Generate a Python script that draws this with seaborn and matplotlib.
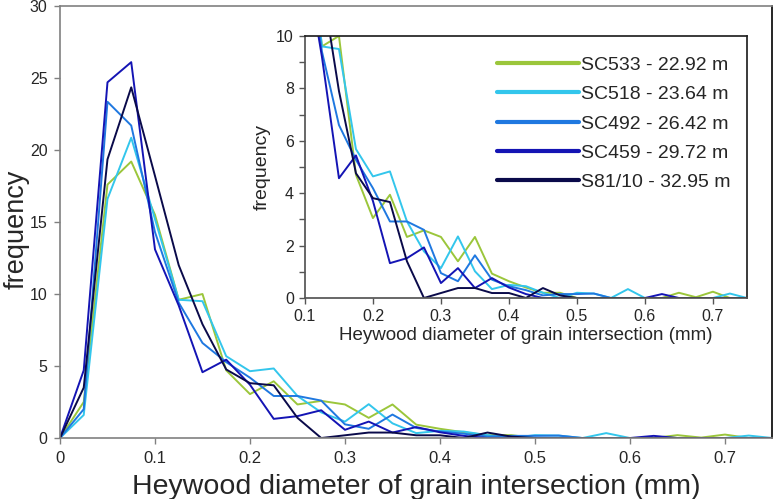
import numpy as np
import pandas as pd
import matplotlib
matplotlib.use("Agg")
import matplotlib.pyplot as plt
import seaborn as sns

# -------------------------
# data (bin centres every 0.025 mm)
diameter = [0, 0.025, 0.05, 0.075, 0.1, 0.125, 0.15, 0.175, 0.2, 0.225,
            0.25, 0.275, 0.3, 0.325, 0.35, 0.375, 0.4, 0.425, 0.45, 0.475,
            0.5, 0.525, 0.55, 0.575, 0.6, 0.625, 0.65, 0.675, 0.7, 0.725, 0.75]

sc533 = [0, 2.5, 17.6, 19.2, 15.5, 9.6, 10.0, 4.7, 3.05, 3.94,
         2.33, 2.58, 2.33, 1.4, 2.33, 0.93, 0.64, 0.4, 0.2, 0.2,
         0, 0, 0, 0, 0, 0, 0.2, 0.03, 0.24, 0, 0]
sc518 = [0, 1.6, 16.6, 20.85, 15.2, 9.6, 9.5, 5.68, 4.64, 4.83,
         2.92, 1.78, 1.14, 2.35, 1.02, 0.34, 0.5, 0.45, 0.2, 0,
         0.2, 0.17, 0, 0.34, 0, 0, 0, 0, 0, 0.17, 0]
sc492 = [0, 2.0, 23.35, 21.7, 14.3, 9.4, 6.6, 5.27, 4.19, 2.92,
         2.92, 2.6, 0.95, 0.64, 1.63, 0.7, 0.45, 0.3, 0.1, 0.15,
         0.15, 0.17, 0, 0, 0, 0, 0, 0, 0, 0, 0]
sc459 = [0, 4.7, 24.7, 26.1, 13.1, 9.2, 4.57, 5.44, 3.7, 1.33,
         1.52, 1.93, 0.57, 1.14, 0.38, 0.76, 0.4, 0.15, 0, 0,
         0, 0, 0, 0, 0, 0.15, 0, 0, 0, 0, 0]
s81_10 = [0, 3.5, 19.35, 24.35, 18.2, 12.0, 7.9, 4.76, 3.81, 3.66,
          1.4, 0, 0.19, 0.38, 0.38, 0.19, 0.19, 0, 0.38, 0.1,
          0, 0, 0, 0, 0, 0, 0, 0, 0, 0, 0]

labels = ["SC533 - 22.92 m", "SC518 - 23.64 m", "SC492 - 26.42 m",
          "SC459 - 29.72 m", "S81/10 - 32.95 m"]
colors = ["#9bc63b", "#33c6ec", "#1f78e0", "#1414b4", "#0a0a4a"]

series = [sc533, sc518, sc492, sc459, s81_10]
frames = []
for lab, vals in zip(labels, series):
    frames.append(pd.DataFrame({"diameter": diameter, "frequency": vals, "sample": lab}))
data = pd.concat(frames, ignore_index=True)
palette = dict(zip(labels, colors))

# -------------------------
sns.set_theme(style="white")
plt.rcParams["font.family"] = ["Liberation Sans", "DejaVu Sans"]

fig = plt.figure(figsize=(7.74, 4.99), dpi=100)
ax = fig.add_axes([0.0775, 0.1222, 0.9205, 0.8658])

sns.lineplot(data=data, x="diameter", y="frequency", hue="sample",
             palette=palette, linewidth=1.4, legend=False, ax=ax)
ax.set_xlim(0, 0.75)
ax.set_ylim(0, 30)
ax.set_xticks([0, 0.1, 0.2, 0.3, 0.4, 0.5, 0.6, 0.7])
ax.set_xticklabels(["0", "0.1", "0.2", "0.3", "0.4", "0.5", "0.6", "0.7"])
ax.set_yticks([0, 5, 10, 15, 20, 25, 30])
ax.tick_params(axis="both", direction="out", length=4, width=1, color="#808080",
               labelsize=12, pad=5, bottom=True, left=True)
ax.tick_params(axis="y", labelsize=11.5)
ax.set_xlabel("Heywood diameter of grain intersection (mm)", fontsize=20.5, labelpad=6)
ax.set_ylabel("frequency", fontsize=19.5)
ax.yaxis.set_label_coords(-0.0421, 0.4826)
for side in ["left", "bottom", "top"]:
    ax.spines[side].set_color("#808080")
    ax.spines[side].set_linewidth(1.2)
ax.spines["right"].set_color("black")
ax.spines["right"].set_linewidth(1.2)

# -------------------------
# inset zoom on the tail
ins = fig.add_axes([0.394, 0.4028, 0.571, 0.5252])
sns.lineplot(data=data, x="diameter", y="frequency", hue="sample",
             palette=palette, linewidth=1.4, ax=ins)
ins.set_xlim(0.1, 0.75)
ins.set_ylim(0, 10)
ins.set_xticks([0.1, 0.2, 0.3, 0.4, 0.5, 0.6, 0.7])
ins.set_xticklabels(["0.1", "0.2", "0.3", "0.4", "0.5", "0.6", "0.7"])
ins.set_yticks([0, 2, 4, 6, 8, 10])
ins.set_yticks([1, 3, 5, 7, 9], minor=True)
ins.tick_params(axis="both", which="both", direction="out", length=4, width=1,
                color="#555555", labelsize=11.5, pad=4, bottom=True, left=True)
ins.set_xlabel("Heywood diameter of grain intersection (mm)", fontsize=13.5, labelpad=2)
ins.set_ylabel("frequency", fontsize=14, labelpad=4)
for side in ["left", "bottom"]:
    ins.spines[side].set_color("#555555")
for side in ["top", "right"]:
    ins.spines[side].set_color("#222222")

leg = ins.legend(loc="upper right", bbox_to_anchor=(1.009, 1.0), frameon=False,
                 fontsize=14, handlelength=4.2, handletextpad=0.1,
                 labelspacing=0.6, borderaxespad=0.65)
for line in leg.get_lines():
    line.set_linewidth(3)

fig.savefig("out.png", dpi=100)
